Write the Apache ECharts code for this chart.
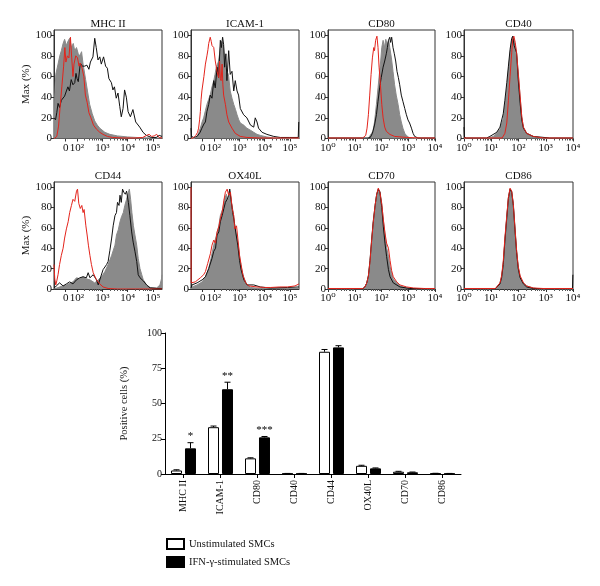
<!DOCTYPE html>
<html><head><meta charset="utf-8">
<script src="https://cdn.jsdelivr.net/npm/echarts@6/dist/echarts.min.js"></script>
<style>html,body{margin:0;padding:0;background:#fff}#c{width:600px;height:586px}</style>
</head><body><div id="c"></div>
<script>
// ---------- histogram panels ----------
const panelNames = ['MHC II','ICAM-1','CD80','CD40','CD44','OX40L','CD70','CD86'];
const panelScales = ['biexp','biexp','log','log','biexp','biexp','log','log'];
const biexpTickValues = [1.55, 2, 3, 4, 5];
const biexpTickLabels = ['0','10²','10³','10⁴','10⁵'];
const logTickValues = [0, 1, 2, 3, 4];
const logTickLabels = ['10⁰','10¹','10²','10³','10⁴'];
const maxTickValues = [0, 20, 40, 60, 80, 100];
const maxAxisLabel = 'Max (%)';

// x in display units (decades), y in % of max
const mhc2Gray = [[1.10,0],[1.12,40],[1.16,62],[1.25,72],[1.32,80],[1.38,85],[1.45,92],[1.51,96],[1.58,90],[1.64,94],[1.71,97],[1.78,88],[1.85,92],[1.91,85],[1.98,88],[2.05,82],[2.11,80],[2.18,84],[2.24,72],[2.34,57],[2.44,42],[2.50,33],[2.60,24],[2.70,17],[2.80,13],[2.90,10],[3.10,6],[3.30,4],[3.60,2.5],[4.00,1.5],[4.50,0.8],[5.00,0.5],[5.36,0.5]];
const mhc2Black = [[1.10,20],[1.15,18],[1.20,25],[1.25,34],[1.31,30],[1.38,37],[1.45,36],[1.51,41],[1.58,46],[1.64,50],[1.70,46],[1.77,57],[1.84,52],[1.91,54],[1.96,63],[2.00,58],[2.05,55],[2.13,73],[2.21,70],[2.30,70],[2.39,71],[2.47,67],[2.53,74],[2.63,79],[2.70,97],[2.76,88],[2.83,76],[2.90,79],[2.96,72],[3.05,79],[3.13,70],[3.20,68],[3.26,58],[3.36,54],[3.42,47],[3.48,50],[3.55,39],[3.62,44],[3.69,31],[3.75,21],[3.82,29],[3.88,47],[3.95,40],[4.02,26],[4.11,21],[4.21,28],[4.32,16],[4.48,11],[4.61,6],[4.74,3],[4.94,1],[5.13,1],[5.25,3],[5.36,2]];
const mhc2Red = [[1.10,0],[1.20,2],[1.27,12],[1.33,30],[1.40,50],[1.47,70],[1.52,88],[1.56,74],[1.62,80],[1.68,78],[1.74,98],[1.79,78],[1.84,60],[1.88,72],[1.95,80],[2.02,78],[2.08,70],[2.13,73],[2.20,68],[2.27,60],[2.33,42],[2.40,35],[2.47,25],[2.55,20],[2.65,13],[2.77,9],[2.90,6],[3.03,4],[3.20,2],[3.40,1],[3.80,0.5],[4.30,0.5],[4.60,1],[4.75,3],[4.85,4],[4.95,2],[5.05,2.5],[5.15,4],[5.25,1],[5.36,0.5]];

const icamGray = [[1.10,0],[1.25,0],[1.33,2],[1.40,6],[1.46,10],[1.53,16],[1.59,20],[1.66,27],[1.72,33],[1.79,38],[1.85,42],[1.92,50],[1.99,56],[2.04,62],[2.09,69],[2.14,72],[2.18,75],[2.22,82],[2.25,88],[2.30,94],[2.35,92],[2.38,88],[2.42,78],[2.45,69],[2.48,62],[2.51,59],[2.55,63],[2.58,60],[2.64,46],[2.71,39],[2.78,33],[2.85,28],[2.91,23],[2.98,18],[3.04,15],[3.17,13],[3.30,10],[3.44,8],[3.57,6],[3.70,4],[3.83,3],[4.09,1.5],[4.36,0.5],[4.70,0],[5.36,0]];
const icamBlack = [[1.09,10],[1.11,2],[1.20,1],[1.33,2],[1.45,6],[1.52,10],[1.60,14],[1.66,16],[1.72,26],[1.79,33],[1.85,42],[1.92,39],[1.99,56],[2.05,49],[2.12,69],[2.18,59],[2.25,95],[2.29,88],[2.34,98],[2.38,91],[2.42,69],[2.47,82],[2.51,56],[2.58,85],[2.64,62],[2.71,65],[2.78,46],[2.84,56],[2.91,46],[2.97,42],[3.04,29],[3.17,23],[3.30,20],[3.44,13],[3.57,11],[3.63,20],[3.70,16],[3.76,10],[3.90,6],[4.09,4],[4.36,2],[4.62,1],[5.00,1],[5.33,1],[5.35,16]];
const icamRed = [[1.10,0],[1.20,1],[1.28,3],[1.35,6],[1.39,10],[1.43,18],[1.46,26],[1.49,38],[1.52,46],[1.56,46],[1.60,60],[1.66,72],[1.72,80],[1.76,86],[1.79,92],[1.85,98],[1.89,94],[1.92,90],[1.99,88],[2.05,75],[2.12,65],[2.18,59],[2.22,75],[2.25,58],[2.28,56],[2.32,72],[2.35,52],[2.38,42],[2.45,33],[2.51,23],[2.58,16],[2.71,10],[2.84,5],[3.04,2],[3.30,1],[3.80,0.5],[4.50,0.5],[5.36,0.5]];

const cd80Gray = [[0,0],[1.50,0],[1.56,1],[1.68,7],[1.74,16],[1.81,33],[1.87,49],[1.93,65],[1.97,75],[2.01,88],[2.06,95],[2.11,88],[2.16,96],[2.21,91],[2.27,95],[2.31,88],[2.37,78],[2.43,65],[2.49,52],[2.55,42],[2.62,33],[2.68,23],[2.74,16],[2.80,10],[2.87,5],[2.93,3],[3.05,0.5],[3.20,0],[4,0]];
const cd80Black = [[0,0.5],[1.50,0.5],[1.58,1],[1.66,5],[1.74,13],[1.81,23],[1.87,36],[1.93,49],[1.99,59],[2.06,69],[2.12,75],[2.18,82],[2.22,88],[2.26,95],[2.31,98],[2.34,93],[2.38,98],[2.43,88],[2.48,82],[2.53,75],[2.58,65],[2.63,59],[2.68,52],[2.74,42],[2.80,36],[2.87,29],[2.93,23],[2.99,18],[3.05,15],[3.12,10],[3.18,5],[3.24,2],[3.36,0.5],[4,0.5]];
const cd80Red = [[0,0.5],[1.00,0.5],[1.30,0.5],[1.37,1],[1.41,3],[1.46,10],[1.51,23],[1.56,42],[1.61,62],[1.66,78],[1.71,88],[1.74,85],[1.78,95],[1.83,99],[1.87,88],[1.91,69],[1.96,52],[2.01,33],[2.06,20],[2.12,11],[2.18,7],[2.31,4],[2.49,2],[2.93,1],[3.50,0.5],[4,0.5]];

const cd40Gray = [[0,0],[0.83,0],[1.08,2],[1.32,9],[1.44,19],[1.50,32],[1.57,48],[1.63,66],[1.69,82],[1.75,94],[1.81,99],[1.87,92],[1.93,82],[1.99,65],[2.06,40],[2.12,21],[2.18,11],[2.30,5],[2.54,2],[2.79,0.5],[3.00,0],[4,0]];
const cd40Black = [[0,11],[0.02,1],[0.10,0.5],[0.83,0.5],[0.95,2],[1.20,6],[1.32,11],[1.44,24],[1.50,37],[1.57,54],[1.63,70],[1.69,86],[1.75,97],[1.79,99],[1.84,90],[1.89,91],[1.93,83],[1.99,57],[2.06,34],[2.12,18],[2.18,10],[2.30,5],[2.54,2],[3.15,0.5],[4,0.5]];
const cd40Red = [[0,0.5],[1.40,0.5],[1.44,1],[1.50,5],[1.57,15],[1.63,37],[1.69,60],[1.75,83],[1.79,96],[1.83,99],[1.88,93],[1.93,83],[1.99,63],[2.06,41],[2.12,21],[2.18,11],[2.30,5],[2.54,2],[2.91,0.5],[4,0.5]];

const cd44Gray = [[1.10,0],[1.12,1],[1.31,2],[1.58,4],[1.84,7],[1.98,11],[2.11,10],[2.24,12],[2.37,10],[2.51,9],[2.70,6],[2.84,9],[2.97,12],[3.10,17],[3.23,24],[3.37,33],[3.50,43],[3.56,53],[3.63,58],[3.70,66],[3.76,71],[3.83,75],[3.89,82],[3.96,88],[4.03,95],[4.07,98],[4.12,88],[4.17,75],[4.23,62],[4.29,53],[4.36,43],[4.42,30],[4.49,20],[4.56,14],[4.62,9],[4.75,4],[4.89,1.5],[5.15,1],[5.28,4],[5.34,10],[5.36,14]];
const cd44Black = [[1.10,1],[1.18,3],[1.31,6],[1.45,3],[1.58,5],[1.71,7],[1.84,5],[1.98,9],[2.11,11],[2.24,12],[2.37,11],[2.44,16],[2.51,11],[2.64,14],[2.77,9],[2.84,4],[2.90,9],[3.03,19],[3.17,24],[3.23,27],[3.30,38],[3.37,50],[3.43,62],[3.50,72],[3.56,75],[3.60,85],[3.66,82],[3.70,92],[3.75,85],[3.80,98],[3.85,95],[3.91,93],[3.96,96],[4.03,85],[4.09,72],[4.16,56],[4.22,46],[4.29,37],[4.36,27],[4.42,14],[4.49,11],[4.56,12],[4.62,8],[4.75,4],[4.89,1],[5.20,0.5],[5.36,0.5]];
const cd44Red = [[1.09,24],[1.12,10],[1.16,4],[1.20,8],[1.25,14],[1.31,24],[1.38,33],[1.45,40],[1.51,50],[1.58,59],[1.65,66],[1.71,75],[1.78,82],[1.84,88],[1.91,86],[1.98,96],[2.02,98],[2.07,84],[2.13,79],[2.19,82],[2.24,75],[2.28,78],[2.35,62],[2.40,53],[2.45,43],[2.51,33],[2.57,24],[2.64,16],[2.77,9],[2.90,5],[3.03,2],[3.23,0.5],[3.60,0],[5.36,0]];

const ox40lGray = [[1.09,0],[1.13,2],[1.33,4],[1.53,7],[1.66,12],[1.79,20],[1.88,30],[1.99,43],[2.10,53],[2.19,62],[2.25,72],[2.35,79],[2.41,88],[2.49,93],[2.56,85],[2.62,98],[2.69,85],[2.76,75],[2.82,62],[2.89,53],[2.96,43],[3.02,30],[3.09,20],[3.18,11],[3.29,5],[3.44,1.5],[3.84,0.5],[5.36,0.5]];
const ox40lBlack = [[1.09,1],[1.13,4],[1.33,6],[1.53,9],[1.66,12],[1.79,20],[1.92,30],[1.99,37],[2.06,40],[2.12,53],[2.19,56],[2.25,66],[2.32,72],[2.39,79],[2.45,85],[2.52,88],[2.58,92],[2.62,98],[2.67,88],[2.74,75],[2.80,66],[2.87,54],[2.94,43],[3.01,28],[3.07,19],[3.18,9],[3.31,4],[3.57,4],[3.83,2],[4.23,1],[4.90,1.5],[5.36,2]];
const ox40lRed = [[1.09,100],[1.095,6],[1.13,5],[1.26,7],[1.46,11],[1.59,14],[1.66,17],[1.75,25],[1.86,35],[1.92,43],[1.99,48],[2.06,45],[2.12,56],[2.19,61],[2.25,69],[2.32,75],[2.39,87],[2.45,95],[2.52,98],[2.58,92],[2.65,95],[2.72,79],[2.78,72],[2.82,59],[2.89,62],[2.94,50],[3.01,33],[3.07,24],[3.14,14],[3.25,6],[3.38,3],[3.70,2],[4.00,1.5],[4.24,1.5],[4.60,2],[4.90,2],[5.20,3],[5.36,5]];

const cd70Gray = [[0,0],[1.30,0],[1.38,2],[1.45,6],[1.51,12],[1.57,25],[1.63,45],[1.69,64],[1.76,80],[1.82,92],[1.88,98],[1.94,96],[2.01,84],[2.07,67],[2.13,54],[2.19,41],[2.26,32],[2.32,22],[2.38,15],[2.44,10],[2.57,6],[2.69,3],[2.94,1],[3.20,0],[4,0]];
const cd70Black = [[0,0.3],[1.30,0.3],[1.38,2],[1.45,6],[1.51,13],[1.57,28],[1.63,48],[1.69,66],[1.76,82],[1.82,93],[1.88,98],[1.94,95],[2.01,80],[2.07,61],[2.13,45],[2.19,32],[2.26,19],[2.32,12],[2.44,6],[2.69,2],[3.06,0.5],[4,0.3]];
const cd70Red = [[0,0.5],[1.30,0.5],[1.38,2],[1.45,6],[1.51,13],[1.57,27],[1.63,47],[1.69,65],[1.76,82],[1.82,93],[1.88,99],[1.94,95],[2.01,83],[2.07,68],[2.13,55],[2.19,45],[2.26,40],[2.32,28],[2.38,18],[2.44,12],[2.57,7],[2.69,4],[2.94,2],[3.20,1],[3.60,0.5],[4,0.5]];

const cd86Gray = [[0,0],[1.15,0],[1.20,1],[1.32,6],[1.38,12],[1.44,25],[1.50,48],[1.57,71],[1.63,90],[1.69,98],[1.75,96],[1.81,84],[1.87,61],[1.93,38],[1.99,22],[2.06,12],[2.18,6],[2.30,3],[2.54,1],[2.80,0],[4,0]];
const cd86Black = [[0,0.3],[1.15,0.3],[1.20,1],[1.32,5],[1.38,11],[1.44,24],[1.50,47],[1.57,70],[1.63,89],[1.69,98],[1.75,95],[1.81,82],[1.87,58],[1.93,36],[1.99,20],[2.06,11],[2.18,5],[2.30,2],[2.54,0.5],[3.98,0.3],[3.995,14]];
const cd86Red = [[0,0.5],[1.15,0.5],[1.20,1],[1.32,6],[1.38,13],[1.44,27],[1.50,50],[1.57,72],[1.63,90],[1.69,99],[1.75,96],[1.81,83],[1.87,60],[1.93,38],[1.99,22],[2.06,13],[2.18,6],[2.30,3],[2.54,1],[2.90,0.5],[4,0.5]];

const grayCurves = [mhc2Gray, icamGray, cd80Gray, cd40Gray, cd44Gray, ox40lGray, cd70Gray, cd86Gray];
const blackCurves = [mhc2Black, icamBlack, cd80Black, cd40Black, cd44Black, ox40lBlack, cd70Black, cd86Black];
const redCurves = [mhc2Red, icamRed, cd80Red, cd40Red, cd44Red, ox40lRed, cd70Red, cd86Red];

// ---------- bar chart ----------
const barCategories = ['MHC II','ICAM-1','CD80','CD40','CD44','OX40L','CD70','CD86'];
const unstimValues = [2.5, 33.2, 11.1, 0.3, 86.7, 5.8, 1.6, 0.4];
const unstimErrors = [0.5, 0.8, 0.4, 0.1, 1.6, 0.4, 0.3, 0.1];
const ifnValues = [18.2, 60.1, 26.0, 0.3, 89.8, 4.0, 1.2, 0.3];
const ifnErrors = [4.0, 5.0, 0.6, 0.1, 1.2, 0.3, 0.2, 0.1];
const ifnStars = ['*','**','***','','','','',''];
const barTicks = [0, 25, 50, 75, 100];
const seriesNames = ['Unstimulated SMCs','IFN-γ-stimulated SMCs'];
const barYName = 'Positive cells (%)';

// ---------- layout ----------
const FONT = '"Liberation Serif", "DejaVu Serif", serif';
const colLeft = [54, 191, 328, 464];
const colWidth = [108, 108, 107, 109];
const rowTop = [30, 182];
const rowHeight = [108.5, 107];
const TXT = '#111';

function minorTicks(d0, d1) {
  const out = [];
  for (let d = d0; d < d1; d++) for (let k = 2; k <= 9; k++) out.push(d + Math.log10(k));
  return out;
}

const grids = [], xAxes = [], yAxes = [], series = [], graphics = [];
panelNames.forEach((name, i) => {
  const col = i % 4, row = Math.floor(i / 4);
  const bi = panelScales[i] === 'biexp';
  const tv = bi ? biexpTickValues : logTickValues;
  const tl = bi ? biexpTickLabels : logTickLabels;
  const xmin = bi ? 1.09 : 0, xmax = bi ? 5.36 : 4;
  grids.push({left: colLeft[col], top: rowTop[row], width: colWidth[col], height: rowHeight[row],
    show: true, borderColor: '#333', borderWidth: 1, backgroundColor: '#fff'});
  xAxes.push({gridIndex: i, type: 'value', position: 'bottom', min: xmin, max: xmax,
    axisLine: {show: true, lineStyle: {color: '#333'}},
    axisTick: {show: true, customValues: tv, length: 3, lineStyle: {color: '#333'}},
    axisLabel: {customValues: tv, formatter: v => tl[tv.indexOf(v)] ?? '', fontFamily: FONT, fontSize: 11, color: TXT, margin: 4},
    splitLine: {show: false}});
  xAxes.push({gridIndex: i, type: 'value', position: 'bottom', min: xmin, max: xmax,
    axisLine: {show: false},
    axisTick: {show: true, customValues: bi ? minorTicks(2, 5) : minorTicks(0, 4), length: 2, lineStyle: {color: '#555'}},
    axisLabel: {show: false}, splitLine: {show: false}});
  yAxes.push({gridIndex: i, type: 'value', min: 0, max: 105,
    axisLine: {show: true, lineStyle: {color: '#333'}},
    axisTick: {show: true, customValues: maxTickValues, length: 3, lineStyle: {color: '#333'}},
    axisLabel: {customValues: maxTickValues, fontFamily: FONT, fontSize: 11, color: TXT, margin: 2},
    splitLine: {show: false},
    name: col === 0 ? maxAxisLabel : '', nameLocation: 'middle', nameGap: 22, nameRotate: 90,
    nameTextStyle: {fontFamily: FONT, fontSize: 11, color: TXT}});
  const xi = 2 * i;
  series.push({type: 'line', xAxisIndex: xi, yAxisIndex: i, data: grayCurves[i], showSymbol: false, silent: true,
    lineStyle: {color: '#8a8a8a', width: 1}, areaStyle: {color: '#8a8a8a', opacity: 1}, z: 1});
  series.push({type: 'line', xAxisIndex: xi, yAxisIndex: i, data: blackCurves[i], showSymbol: false, silent: true,
    lineStyle: {color: '#111', width: 1}, z: 2});
  series.push({type: 'line', xAxisIndex: xi, yAxisIndex: i, data: redCurves[i], showSymbol: false, silent: true,
    lineStyle: {color: '#e3241c', width: 1}, z: 3});
  graphics.push({type: 'text', x: colLeft[col] + colWidth[col] / 2, y: rowTop[row] - 0.5,
    style: {text: name, textAlign: 'center', textVerticalAlign: 'bottom', font: '11px ' + FONT, fill: TXT}});
});

// bar chart grid
const bi = panelNames.length;
grids.push({left: 165, top: 333, width: 296, height: 141});
const barX = xAxes.length, barY = yAxes.length;
xAxes.push({gridIndex: bi, type: 'category', data: barCategories, position: 'bottom',
  axisLine: {show: true, lineStyle: {color: '#000'}},
  axisTick: {show: true, alignWithLabel: true, length: 4, lineStyle: {color: '#000'}},
  axisLabel: {rotate: 90, fontFamily: FONT, fontSize: 10, color: TXT, margin: 6}});
yAxes.push({gridIndex: bi, type: 'value', min: 0, max: 100, interval: 25,
  axisLine: {show: true, lineStyle: {color: '#000'}},
  axisTick: {show: true, length: 4, lineStyle: {color: '#000'}},
  axisLabel: {fontFamily: FONT, fontSize: 10, color: TXT, margin: 3},
  splitLine: {show: false},
  name: barYName, nameLocation: 'middle', nameGap: 35, nameRotate: 90,
  nameTextStyle: {fontFamily: FONT, fontSize: 10.5, color: TXT}});

series.push({type: 'bar', name: seriesNames[0], xAxisIndex: barX, yAxisIndex: barY, data: unstimValues,
  barWidth: 11, barGap: '27%', itemStyle: {color: '#fff', borderColor: '#000', borderWidth: 1}, z: 3});
series.push({type: 'bar', name: seriesNames[1], xAxisIndex: barX, yAxisIndex: barY, data: ifnValues,
  barWidth: 11, barGap: '27%', itemStyle: {color: '#000', borderColor: '#000', borderWidth: 1}, z: 3});

function errSeries(vals, errs, offset, stars) {
  return {type: 'custom', xAxisIndex: barX, yAxisIndex: barY, silent: true, z: 5,
    data: vals.map((v, j) => [j, v, errs[j]]),
    renderItem: (params, api) => {
      const j = api.value(0), v = api.value(1), e = api.value(2);
      const x = api.coord([j, 0])[0] + offset;
      const yb = api.coord([j, v])[1];
      const yt = api.coord([j, v + e])[1];
      const ch = [
        {type: 'line', shape: {x1: x, y1: yb, x2: x, y2: yt}, style: {stroke: '#000', lineWidth: 1}},
        {type: 'line', shape: {x1: x - 3, y1: yt, x2: x + 3, y2: yt}, style: {stroke: '#000', lineWidth: 1}}
      ];
      if (stars && stars[j]) ch.push({type: 'text', x: x, y: yt - 1,
        style: {text: stars[j], textAlign: 'center', textVerticalAlign: 'bottom', font: '11px ' + FONT, fill: '#000'}});
      return {type: 'group', children: ch};
    }};
}
series.push(errSeries(unstimValues, unstimErrors, -7, null));
series.push(errSeries(ifnValues, ifnErrors, 7, ifnStars));

const chart = echarts.init(document.getElementById('c'), null, {renderer: 'canvas'});
chart.setOption({
  animation: false,
  backgroundColor: '#fff',
  grid: grids, xAxis: xAxes, yAxis: yAxes, series: series,
  graphic: graphics,
  legend: {data: seriesNames, orient: 'vertical', left: 166, top: 538, padding: 0, itemWidth: 17, itemHeight: 10, itemGap: 6,
    icon: 'rect', selectedMode: false,
    textStyle: {fontFamily: FONT, fontSize: 10.5, color: TXT}}
});
</script></body></html>
